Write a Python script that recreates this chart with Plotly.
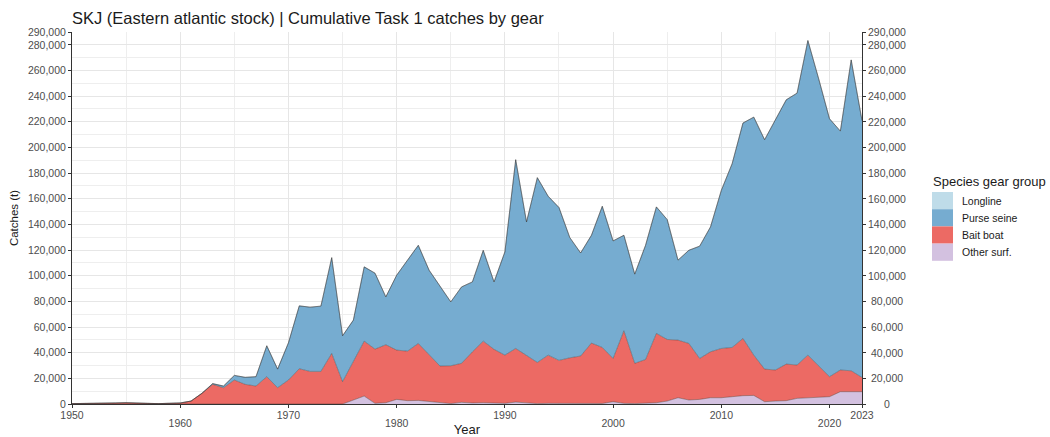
import plotly.graph_objects as go

years = list(range(1950, 2024))

other_surf = [
    0, 0, 0, 0, 0, 0, 0, 300, 300, 300,
    0, 0, 0, 0, 0, 0, 0, 0, 0, 0,
    0, 0, 0, 0, 0, 0, 3100, 6200, 500, 1000,
    3600, 2600, 2800, 2000, 1000, 300, 1300, 800, 1000, 800,
    500, 1500, 1000, 300, 500, 400, 300, 400, 500, 400,
    1800, 500, 300, 500, 1000, 2300, 4900, 3100, 3600, 4900,
    4900, 5700, 6500, 6700, 1800, 2300, 2600, 4400, 4900, 5200,
    5700, 9600, 9600, 9600,
]

bait_boat = [
    300, 300, 500, 800, 800, 1000, 1000, 200, 0, 200,
    800, 2300, 8300, 15300, 12700, 18700, 15300, 14000, 21300, 12700,
    18700, 27500, 25400, 25400, 39400, 17400, 29800, 42800, 42300, 45200,
    38400, 38600, 44400, 36700, 28600, 29500, 30400, 39900, 48000, 41800,
    37600, 41800, 36600, 32100, 37600, 33600, 35700, 37000, 47000, 43700,
    33700, 56600, 31400, 34200, 54000, 48000, 44900, 44100, 31900, 35800,
    38400, 38400, 44600, 31400, 25400, 24200, 28500, 26000, 33200, 24400,
    15600, 16900, 16300, 11100,
]

purse_seine = [
    0, 0, 0, 0, 0, 0, 0, 0, 0, 0,
    0, 0, 0, 600, 1300, 3600, 5500, 7300, 24100, 14500,
    29000, 49000, 50100, 50900, 74700, 35800, 32500, 57900, 59200, 37300,
    58400, 70900, 76500, 65600, 62500, 49800, 59600, 54500, 70800, 52600,
    80400, 147100, 104300, 144000, 123800, 119100, 93700, 80300, 84000, 110000,
    91600, 74400, 69500, 89000, 98600, 93400, 62300, 72600, 87500, 97300,
    123200, 143200, 167900, 185500, 178800, 195100, 206000, 211900, 245200, 223800,
    201000, 186200, 242300, 200300,
]

longline = [
    0, 0, 0, 0, 0, 0, 0, 0, 0, 0,
    0, 0, 0, 0, 0, 0, 0, 0, 0, 0,
    0, 0, 0, 0, 0, 0, 0, 0, 0, 0,
    0, 0, 0, 0, 0, 0, 0, 0, 0, 0,
    100, 100, 100, 100, 100, 100, 100, 100, 100, 100,
    100, 100, 100, 100, 100, 100, 100, 100, 100, 100,
    100, 100, 100, 100, 100, 100, 100, 100, 100, 100,
    100, 100, 100, 100,
]

series_names = ["Other surf.", "Bait boat", "Purse seine", "Longline"]
series_values = [other_surf, bait_boat, purse_seine, longline]
series_colors = ["#d3c1e0", "#ec6a64", "#76acd0", "#bfdce9"]

legend_names = ["Longline", "Purse seine", "Bait boat", "Other surf."]
legend_colors = ["#bfdce9", "#76acd0", "#ec6a64", "#d3c1e0"]

y_ticks = [0, 20000, 40000, 60000, 80000, 100000, 120000, 140000, 160000,
           180000, 200000, 220000, 240000, 260000, 280000, 290000]
y_ticklabels = ["0", "20,000", "40,000", "60,000", "80,000", "100,000", "120,000",
                "140,000", "160,000", "180,000", "200,000", "220,000", "240,000",
                "260,000", "280,000", "290,000"]
x_upper = [1950, 1970, 1990, 2010, 2023]
x_lower = [1960, 1980, 2000, 2020]

FONT = "Liberation Sans, Arial, sans-serif"
TICKC = "#4d4d4d"
AXC = "#333333"

fig = go.Figure()
for name, vals, col in zip(series_names, series_values, series_colors):
    fig.add_trace(go.Scatter(
        x=years, y=vals, name=name, stackgroup="one", mode="lines",
        line=dict(color="rgba(50,50,50,0.55)", width=0.7),
        fillcolor=col, showlegend=False,
    ))
# invisible trace to carry the second (lower-row) x axis
fig.add_trace(go.Scatter(x=[years[0]], y=[0], xaxis="x2", mode="markers",
                         marker=dict(opacity=0), showlegend=False, hoverinfo="skip"))

all_x = sorted(x_upper + x_lower)
fig.update_layout(
    width=1050, height=437,
    margin=dict(l=72, r=188, t=32, b=33, autoexpand=False),
    paper_bgcolor="white", plot_bgcolor="white",
    font=dict(family=FONT, color=TICKC, size=10.5),
    title=dict(text="SKJ (Eastern atlantic stock) | Cumulative Task 1 catches by gear",
               x=72 / 1050, xanchor="left", xref="container",
               y=1 - 18 / 437, yanchor="middle", yref="container",
               font=dict(family=FONT, size=16.5, color="#1a1a1a")),
    xaxis=dict(
        range=[1950, 2023], tickmode="array", tickvals=all_x,
        ticktext=[str(v) if v in x_upper else "" for v in all_x],
        ticks="outside", ticklen=3, tickcolor=AXC, tickwidth=1,
        showline=True, linecolor=AXC, linewidth=1,
        showgrid=True, gridcolor="#e6e6e6", gridwidth=1,
        minor=dict(tickmode="linear", tick0=1955, dtick=10, showgrid=True,
                   gridcolor="#eeeeee", gridwidth=0.8, ticks=""),
        zeroline=False, tickfont=dict(size=10.5, color=TICKC),
        layer="below traces", automargin=False, ticklabelstandoff=-2,
    ),
    xaxis2=dict(
        overlaying="x", side="bottom", anchor="y", range=[1950, 2023],
        tickmode="array", tickvals=x_lower, ticktext=[str(v) for v in x_lower],
        ticks="", showline=False, showgrid=False, zeroline=False,
        ticklabelstandoff=11, tickfont=dict(size=10.5, color=TICKC),
        automargin=False,
        title=dict(text="Year", font=dict(size=13, color="#1a1a1a"), standoff=2),
    ),
    yaxis=dict(
        range=[0, 290000], tickmode="array", tickvals=y_ticks, ticktext=y_ticklabels,
        ticks="outside", ticklen=3, tickcolor=AXC, tickwidth=1,
        showline=True, linecolor=AXC, linewidth=1, mirror="ticks",
        showgrid=True, gridcolor="#e6e6e6", gridwidth=1,
        minor=dict(tickmode="linear", tick0=10000, dtick=20000, showgrid=True,
                   gridcolor="#eeeeee", gridwidth=0.8, ticks=""),
        zeroline=False, tickfont=dict(size=10.5, color=TICKC), automargin=False,
        title=dict(text="Catches (t)", font=dict(size=11.5, color="#1a1a1a"), standoff=6),
    ),
    showlegend=False,
)

# right-hand axis labels (centered, as in the reference)
for v, t in zip(y_ticks, y_ticklabels):
    fig.add_annotation(x=(887 - 72) / 790, xref="paper", y=v, yref="y",
                       text=t, showarrow=False, xanchor="center", yanchor="middle",
                       font=dict(size=10.5, color=TICKC, family=FONT))

# manual legend (ggplot-style keys)
def px_x(px):
    return (px - 72) / 790

def px_y(py):
    return (404 - py) / 372

fig.add_annotation(x=px_x(931), y=px_y(181), xref="paper", yref="paper",
                   text="Species gear group", showarrow=False, xanchor="left",
                   yanchor="middle", font=dict(size=13, color="#1a1a1a", family=FONT))
key_top = 192
key_h = 17.2
for i, (nm, col) in enumerate(zip(legend_names, legend_colors)):
    t = key_top + i * key_h
    fig.add_shape(type="rect", xref="paper", yref="paper",
                  x0=px_x(932), x1=px_x(953), y0=px_y(t), y1=px_y(t + key_h),
                  fillcolor=col, line=dict(width=0))
    fig.add_annotation(x=px_x(960), y=px_y(t + key_h / 2), xref="paper", yref="paper",
                       text=nm, showarrow=False, xanchor="left", yanchor="middle",
                       font=dict(size=10.5, color="#1a1a1a", family=FONT))

fig.write_html("out.html", config={"displayModeBar": False},
               post_script="document.body.style.margin='0';document.body.style.padding='0';")
